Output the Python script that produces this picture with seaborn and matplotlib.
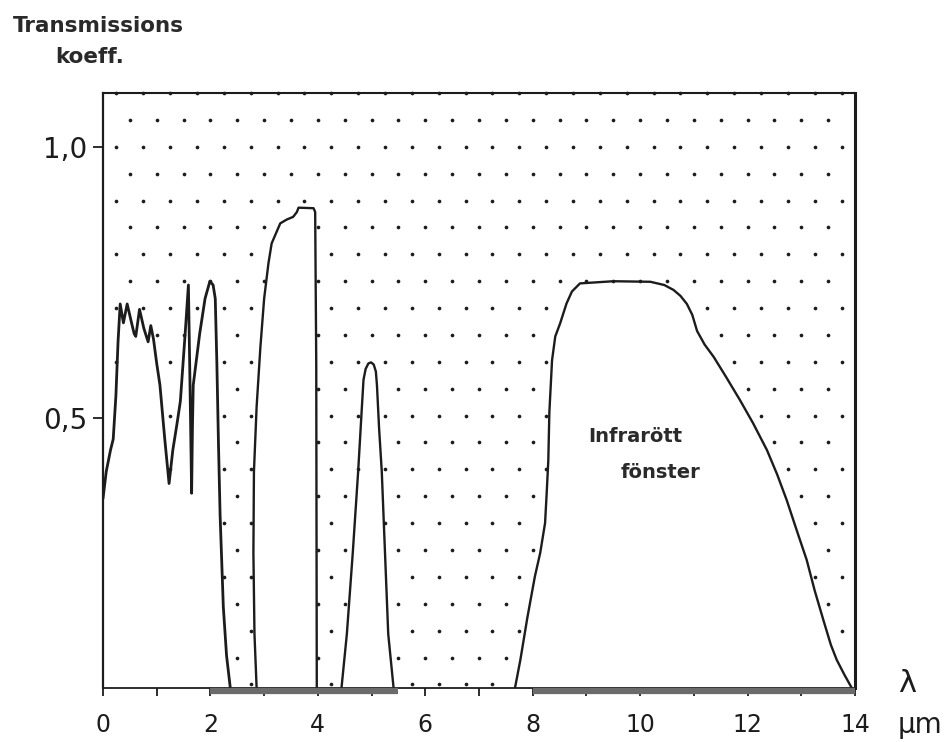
import numpy as np
import pandas as pd
import matplotlib
matplotlib.use("Agg")
import matplotlib.pyplot as plt
from matplotlib.path import Path
import seaborn as sns

# Atmospheric transmission, one list pair per transmission window
# (wavelength in µm, transmission coefficient)
win1_wl = [0.00, 0.06, 0.14, 0.19, 0.24, 0.28, 0.32, 0.38, 0.45, 0.52, 0.58, 0.61,
           0.68, 0.76, 0.84, 0.89, 0.94, 1.00, 1.06, 1.15, 1.23, 1.30, 1.38, 1.44,
           1.53, 1.59, 1.62, 1.65, 1.665, 1.68, 1.80, 1.90, 1.99, 2.05, 2.09, 2.12,
           2.15, 2.18, 2.24, 2.30, 2.37]
win1_tr = [0.35, 0.40, 0.44, 0.46, 0.54, 0.64, 0.71, 0.675, 0.71, 0.68, 0.655, 0.65,
           0.70, 0.665, 0.64, 0.67, 0.645, 0.60, 0.56, 0.46, 0.378, 0.44, 0.49, 0.53,
           0.656, 0.745, 0.56, 0.36, 0.48, 0.56, 0.655, 0.72, 0.752, 0.745, 0.72, 0.60,
           0.45, 0.32, 0.15, 0.06, 0.0]

win2_wl = [2.86, 2.82, 2.80, 2.81, 2.86, 2.93, 3.00, 3.08, 3.14, 3.30, 3.42, 3.54,
           3.61, 3.64, 3.92, 3.95, 3.97, 3.98]
win2_tr = [0.0, 0.10, 0.25, 0.40, 0.52, 0.63, 0.72, 0.785, 0.822, 0.859, 0.866, 0.871,
           0.880, 0.888, 0.887, 0.880, 0.60, 0.0]

win3_wl = [4.44, 4.54, 4.65, 4.75, 4.82, 4.85, 4.89, 4.94, 4.99, 5.04, 5.08, 5.10,
           5.14, 5.19, 5.25, 5.31, 5.41]
win3_tr = [0.0, 0.10, 0.25, 0.40, 0.52, 0.57, 0.59, 0.60, 0.602, 0.598, 0.585, 0.56,
           0.48, 0.40, 0.25, 0.10, 0.0]

win4_wl = [7.67, 7.77, 7.90, 8.04, 8.14, 8.23, 8.26, 8.29, 8.31, 8.36, 8.42, 8.51,
           8.63, 8.73, 8.88, 9.50, 10.19, 10.45, 10.62, 10.75, 10.87, 10.97, 11.06,
           11.20, 11.37, 11.60, 11.86, 12.10, 12.36, 12.55, 12.73, 12.92, 13.10,
           13.25, 13.41, 13.55, 13.66, 13.80, 13.94]
win4_tr = [0.0, 0.052, 0.13, 0.206, 0.25, 0.305, 0.36, 0.42, 0.51, 0.606, 0.65, 0.674,
           0.711, 0.733, 0.748, 0.752, 0.751, 0.745, 0.736, 0.725, 0.71, 0.69, 0.66,
           0.635, 0.612, 0.575, 0.532, 0.49, 0.44, 0.395, 0.347, 0.29, 0.237,
           0.18, 0.126, 0.08, 0.052, 0.025, 0.0]

windows = [(win1_wl, win1_tr), (win2_wl, win2_tr), (win3_wl, win3_tr), (win4_wl, win4_tr)]

# Absorption bands marked along the wavelength axis (µm)
absorb_start = [2.0, 8.0]
absorb_end = [5.5, 14.0]

x_ticks = list(range(0, 15))
x_tick_labels = [str(t) if t % 2 == 0 else "" for t in x_ticks]
y_ticks = [0.5, 1.0]
y_tick_labels = ["0,5", "1,0"]

window_label_1 = "Infrarött"
window_label_2 = "fönster"

sns.set_style("white")
plt.rcParams["font.family"] = ["DejaVu Sans"]

ink = "#1c1c1c"

fig = plt.figure(figsize=(9.45, 7.42), dpi=100)
ax = fig.add_axes([103 / 945, 54 / 742, 752 / 945, 595 / 742])
ax.set_xlim(0, 14)
ax.set_ylim(0, 1.10)

# Dotted screen tone over the absorbed (opaque) region
pitch_x, pitch_y = 0.5, 0.0497
dx, dy = [], []
for n in range(23):
    yy = 1.10 - n * pitch_y
    x0 = 0.25 if n % 2 == 0 else 0.5
    for xx in np.arange(x0, 14.0, pitch_x):
        dx.append(xx)
        dy.append(yy)
pts = np.column_stack([dx, dy])

inside = np.zeros(len(pts), dtype=bool)
for wl, tr in windows:
    verts = list(zip(wl, tr))
    if tr[0] != 0:
        verts = [(wl[0], 0.0)] + verts
    verts.append(verts[0])
    inside |= Path(verts).contains_points(pts)
dots = pd.DataFrame({"wl": pts[~inside, 0], "tr": pts[~inside, 1]})
sns.scatterplot(data=dots, x="wl", y="tr", s=7, color=ink, linewidth=0,
                ax=ax, zorder=1, clip_on=False)

# Transmission curve
for i, (wl, tr) in enumerate(windows):
    df = pd.DataFrame({"wl": wl, "tr": tr})
    sns.lineplot(data=df, x="wl", y="tr", sort=False, estimator=None,
                 color=ink, linewidth=2.0 if i == 0 else 1.7, ax=ax, zorder=3)

# Absorption bands along the axis
ax.hlines([-0.0055] * len(absorb_start), absorb_start, absorb_end,
          colors="#6b6b6b", linewidth=4.5, clip_on=False, zorder=4)

ax.text(9.03, 0.455, window_label_1, fontsize=14, fontweight="bold",
        color="#2a2a2a", va="baseline")
ax.text(9.63, 0.388, window_label_2, fontsize=14, fontweight="bold",
        color="#2a2a2a", va="baseline")

ax.set_xticks(x_ticks)
ax.set_xticklabels(x_tick_labels)
ax.set_yticks(y_ticks)
ax.set_yticklabels(y_tick_labels)
ax.set_xlabel("")
ax.set_ylabel("")
ax.tick_params(axis="x", direction="out", length=6, width=1.3, pad=12,
               labelsize=17, colors=ink, bottom=True)
ax.tick_params(axis="y", direction="out", length=7.5, width=1.3, pad=4,
               labelsize=20, colors=ink, left=True)

for side, lw in {"left": 1.6, "bottom": 1.3, "top": 1.5, "right": 2.2}.items():
    ax.spines[side].set_visible(True)
    ax.spines[side].set_linewidth(lw)
    ax.spines[side].set_color(ink)

fig.text(13 / 945, 1 - 32 / 742, "Transmissions", fontsize=15.5,
         fontweight="bold", color="#2a2a2a", va="baseline")
fig.text(55 / 945, 1 - 63 / 742, "koeff.", fontsize=15.5,
         fontweight="bold", color="#2a2a2a", va="baseline")
fig.text(907 / 945, 1 - 692 / 742, "λ", fontsize=22, color=ink,
         ha="center", va="baseline")
fig.text(920 / 945, 1 - 733 / 742, "µm", fontsize=20, color=ink,
         ha="center", va="baseline")

fig.savefig("out.png", dpi=100)
